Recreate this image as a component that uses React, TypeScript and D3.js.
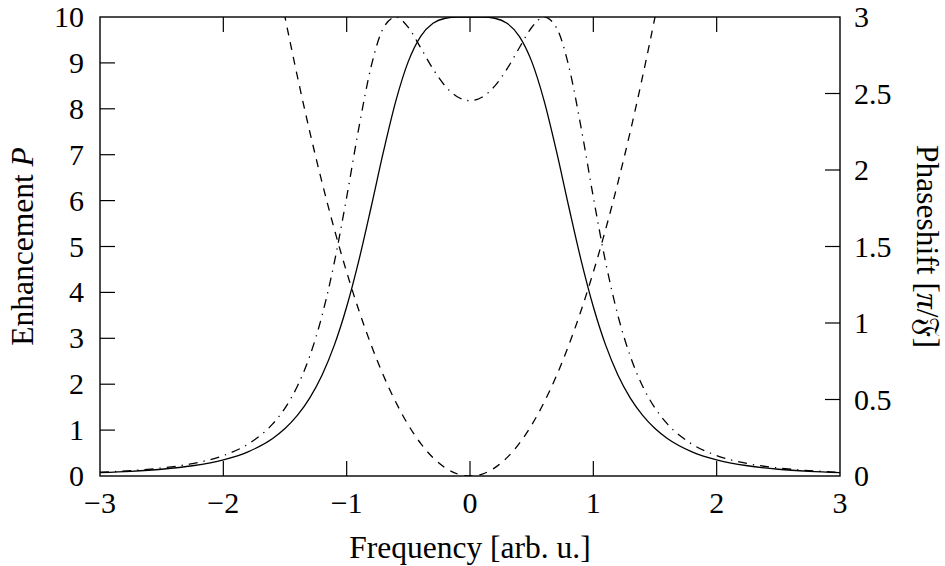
import React from "react";
import * as d3 from "d3";

// ---- data ----
const freq = [-3, -2.75, -2.5, -2.25, -2, -1.8, -1.6, -1.5, -1.4, -1.3, -1.2, -1.1, -1, -0.9, -0.8, -0.7, -0.6, -0.5, -0.4, -0.3, -0.2, -0.1, 0,
  0.1, 0.2, 0.3, 0.4, 0.5, 0.6, 0.7, 0.8, 0.9, 1, 1.1, 1.2, 1.3, 1.4, 1.5, 1.6, 1.8, 2, 2.25, 2.5, 2.75, 3];

const enhancement = [0.072, 0.101, 0.147, 0.223, 0.352, 0.527, 0.818, 1.034, 1.32, 1.698, 2.197, 2.851, 3.687, 4.709, 5.877, 7.087, 8.184, 9.033, 9.58, 9.863, 9.973, 9.998, 10,
  9.998, 9.973, 9.863, 9.58, 9.033, 8.184, 7.087, 5.877, 4.709, 3.687, 2.851, 2.197, 1.698, 1.32, 1.034, 0.818, 0.527, 0.352, 0.223, 0.147, 0.101, 0.072];

const enhancement2 = [0.082, 0.117, 0.175, 0.271, 0.445, 0.694, 1.135, 1.48, 1.954, 2.606, 3.491, 4.653, 6.074, 7.603, 8.939, 9.771, 9.998, 9.771, 9.33, 8.868, 8.493, 8.257, 8.177,
  8.257, 8.493, 8.868, 9.33, 9.771, 9.998, 9.771, 8.939, 7.603, 6.074, 4.653, 3.491, 2.606, 1.954, 1.48, 1.135, 0.694, 0.445, 0.271, 0.175, 0.117, 0.082];

const phaseFreq = [-1.6, -1.5, -1.4, -1.3, -1.2, -1.1, -1, -0.9, -0.8, -0.7, -0.6, -0.5, -0.4, -0.3, -0.2, -0.1, 0,
  0.1, 0.2, 0.3, 0.4, 0.5, 0.6, 0.7, 0.8, 0.9, 1, 1.1, 1.2, 1.3, 1.4, 1.5, 1.6];
const phase = [3.413, 3.0, 2.613, 2.253, 1.92, 1.613, 1.333, 1.08, 0.853, 0.653, 0.48, 0.333, 0.213, 0.12, 0.053, 0.013, 0,
  0.013, 0.053, 0.12, 0.213, 0.333, 0.48, 0.653, 0.853, 1.08, 1.333, 1.613, 1.92, 2.253, 2.613, 3.0, 3.413];

const xTicks = [-3, -2, -1, 0, 1, 2, 3];
const yLeftTicks = [0, 1, 2, 3, 4, 5, 6, 7, 8, 9, 10];
const yRightTicks = [0, 0.5, 1, 1.5, 2, 2.5, 3];

const W = 945, H = 566;
const L = 100, R = 840, T = 17, B = 476;
const TICK = 15;
const FONT = "'Liberation Serif', 'Times New Roman', serif";

export default function App() {
  const x = d3.scaleLinear().domain([-3, 3]).range([L, R]);
  const yL = d3.scaleLinear().domain([0, 10]).range([B, T]);
  const yR = d3.scaleLinear().domain([0, 3]).range([B, T]);

  const lineL = d3.line<number>().x((_, i) => x(freq[i])).y((d) => yL(d)).curve(d3.curveMonotoneX);
  const lineR = d3.line<number>().x((_, i) => x(phaseFreq[i])).y((d) => yR(d)).curve(d3.curveMonotoneX);

  const fmtMinus = (v: number) => (v < 0 ? "\u2212" + Math.abs(v) : String(v));

  return (
    <svg width={W} height={H} style={{ position: "absolute", left: 0, top: 0, background: "#fff" }}>
      <defs>
        <clipPath id="plotclip">
          <rect x={L} y={T} width={R - L} height={B - T} />
        </clipPath>
      </defs>
      <g clipPath="url(#plotclip)" fill="none" stroke="#000" strokeWidth={1.3}>
        <path d={lineL(enhancement) || ""} />
        <path d={lineR(phase) || ""} strokeDasharray="8,7" />
        <path d={lineL(enhancement2) || ""} strokeDasharray="9,6,1.3,6" />
      </g>

      {/* ticks */}
      <g stroke="#000" strokeWidth={1.2}>
        {xTicks.slice(1, -1).map((t) => (
          <g key={"xt" + t}>
            <line x1={x(t)} x2={x(t)} y1={B} y2={B - TICK} />
            <line x1={x(t)} x2={x(t)} y1={T} y2={T + TICK} />
          </g>
        ))}
        {yLeftTicks.slice(1, -1).map((t) => (
          <line key={"yl" + t} x1={L} x2={L + TICK} y1={yL(t)} y2={yL(t)} />
        ))}
        {yRightTicks.slice(1, -1).map((t) => (
          <line key={"yr" + t} x1={R} x2={R - TICK} y1={yR(t)} y2={yR(t)} />
        ))}
      </g>

      {/* frame */}
      <rect x={L} y={T} width={R - L} height={B - T} fill="none" stroke="#000" strokeWidth={1.4} />

      {/* tick labels */}
      <g fontFamily={FONT} fontSize={30} fill="#000">
        {xTicks.map((t) => (
          <text key={"xl" + t} x={x(t)} y={513} textAnchor="middle">{fmtMinus(t)}</text>
        ))}
        {yLeftTicks.map((t) => (
          <text key={"yll" + t} x={84} y={yL(t) + 10} textAnchor="end">{t}</text>
        ))}
        {yRightTicks.map((t) => (
          <text key={"yrl" + t} x={854} y={yR(t) + 10} textAnchor="start">{t}</text>
        ))}
      </g>

      {/* axis labels */}
      <g fontFamily={FONT} fontSize={31.5} fill="#000">
        <text x={470} y={558} textAnchor="middle">Frequency [arb. u.]</text>
        <text transform={`translate(33,${(T + B) / 2}) rotate(-90)`} textAnchor="middle">
          Enhancement <tspan fontStyle="italic">P</tspan>
        </text>
        <text transform={`translate(917,${(T + B) / 2}) rotate(90)`} textAnchor="middle">
          Phaseshift [<tspan fontStyle="italic">π</tspan>/𝔉]
        </text>
      </g>
    </svg>
  );
}
